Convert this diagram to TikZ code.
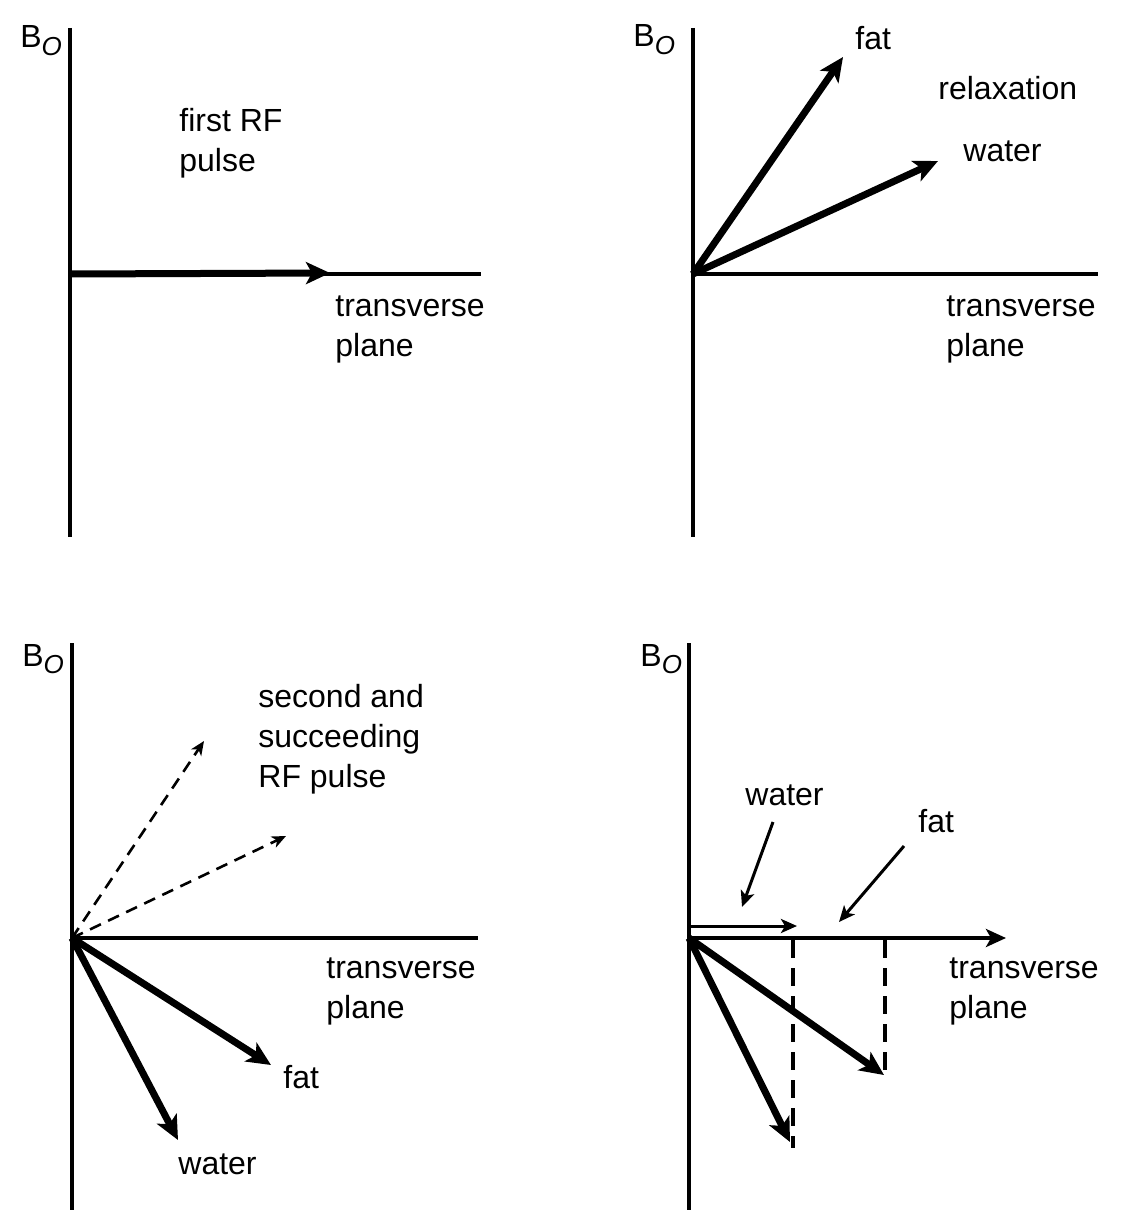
\documentclass[tikz,border=0pt]{standalone}
\usepackage{fontspec}
\setmainfont{Liberation Sans}
\usetikzlibrary{positioning,arrows.meta}

\tikzset{
  axis/.style={line width=2.3pt},
  vec/.style={line width=3.5pt,-{Stealth[length=12pt,width=11pt,inset=3pt]}},
  thinvec/.style={line width=1.5pt,-{Stealth[length=8pt,width=7pt,inset=2pt]}},
  ghost/.style={line width=1.3pt,dash pattern=on 6pt off 4pt,-{Stealth[length=7pt,width=6pt,inset=2pt]}},
  drop/.style={line width=2pt,dash pattern=on 9pt off 5pt},
  lbl/.style={anchor=base west,inner sep=0pt,align=left,font=\fontsize{16}{20}\selectfont},
}
\newcommand{\bnought}{B\raisebox{-0.45ex}{\fontsize{13}{13}\selectfont\itshape O}}

\begin{document}
\begin{tikzpicture}[x=0.5pt,y=-0.5pt]
\useasboundingbox (0,0) rectangle (1128,1220);

% axes of the four panels
\coordinate (O1) at (70,274);  \coordinate (T1) at (70,28);   \coordinate (D1) at (70,537);   \coordinate (R1) at (481,274);
\coordinate (O2) at (693,274); \coordinate (T2) at (693,28);  \coordinate (D2) at (693,537);  \coordinate (R2) at (1098,274);
\coordinate (O3) at (72,938);  \coordinate (T3) at (72,643);  \coordinate (D3) at (72,1210);  \coordinate (R3) at (478,938);
\coordinate (O4) at (689,938); \coordinate (T4) at (689,643); \coordinate (D4) at (689,1210); \coordinate (R4) at (1006,938);
\foreach \p in {1,2,3}{\draw[axis] (T\p)--(D\p); \draw[axis] (O\p)--(R\p);}
\draw[axis] (T4)--(D4);
\draw[line width=2pt,-{Stealth[length=10pt,width=9pt,inset=2.5pt]}] (O4)--(R4);

% (multi-line labels sit on the baseline of their last line)
\foreach \p/\x/\y in {1/20/48, 2/633/47, 3/22/666, 4/640/666}
  {\node[lbl] (b\p) at (\x,\y) {\bnought};}
\foreach \p/\x/\y in {1/335/356, 2/946/356, 3/326/1018, 4/949/1018}
  {\node[lbl] (tp\p) at (\x,\y) {transverse\\plane};}

% first RF pulse
\coordinate (M1) at (330,273);
\draw[vec] (O1)--(M1);
\node[lbl] (rf1) at (179,171) {first RF\\pulse};

% relaxation
\coordinate (F2) at (843,57); \coordinate (W2) at (938,161);
\draw[vec] (O2)--(F2); \draw[vec] (O2)--(W2);
\node[lbl] (fat2) at (855,50) {fat};
\node[lbl] (rel2) at (938,99) {relaxation};
\node[lbl] (wat2) at (963,162) {water};

% second and succeeding RF pulse
\coordinate (G3a) at (204,741); \coordinate (G3b) at (286,836);
\coordinate (F3) at (271,1065); \coordinate (W3) at (178,1140);
\draw[ghost] (O3)--(G3a); \draw[ghost] (O3)--(G3b);
\draw[vec] (O3)--(F3); \draw[vec] (O3)--(W3);
\node[lbl] (rf3) at (258,787) {second and\\succeeding\\RF pulse};
\node[lbl] (fat3) at (283,1088) {fat};
\node[lbl] (wat3) at (178,1174) {water};

% projections
\coordinate (S4) at (689,926); \coordinate (E4) at (797,926);
\coordinate (W4) at (790,1142); \coordinate (F4) at (884,1075);
\coordinate (Wx) at (793,940); \coordinate (Wy) at (793,1148);
\coordinate (Fx) at (885,940); \coordinate (Fy) at (885,1075);
\draw[thinvec] (S4)--(E4);
\draw[vec] (O4)--(W4); \draw[vec] (O4)--(F4);
\draw[drop] (Wx)--(Wy); \draw[drop] (Fx)--(Fy);
\node[lbl] (wat4) at (745,805) {water};
\node[lbl] (fat4) at (918,832) {fat};
\coordinate (wa) at (773,822); \coordinate (wb) at (742,907);
\coordinate (fa) at (904,846); \coordinate (fb) at (839,922);
\draw[thinvec] (wa)--(wb); \draw[thinvec] (fa)--(fb);
\end{tikzpicture}
\end{document}
